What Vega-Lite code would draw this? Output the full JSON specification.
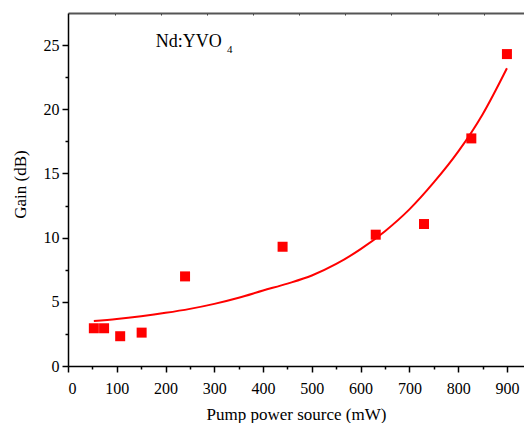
{
  "$schema": "https://vega.github.io/schema/vega-lite/v6.json",
  "width": 456,
  "height": 353,
  "autosize": {"type": "none"},
  "padding": {"left": 68, "top": 13, "right": 0, "bottom": 57},
  "background": "white",
  "config": {
    "view": {"stroke": null},
    "axis": {
      "grid": false,
      "labelFont": "Liberation Serif",
      "titleFont": "Liberation Serif",
      "labelFontSize": 16,
      "titleFontSize": 17,
      "titleFontWeight": "normal",
      "labelColor": "#000",
      "titleColor": "#000",
      "domainColor": "#000",
      "tickColor": "#000",
      "domainWidth": 1.5,
      "tickWidth": 1.5
    }
  },
  "datasets": {
    "fit": [
      {"power": 53, "gain": 3.5},
      {"power": 100, "gain": 3.66},
      {"power": 150, "gain": 3.88},
      {"power": 200, "gain": 4.14},
      {"power": 250, "gain": 4.45},
      {"power": 300, "gain": 4.84},
      {"power": 350, "gain": 5.32},
      {"power": 400, "gain": 5.88},
      {"power": 450, "gain": 6.42},
      {"power": 500, "gain": 7.05},
      {"power": 550, "gain": 7.95},
      {"power": 600, "gain": 9.1},
      {"power": 650, "gain": 10.5},
      {"power": 700, "gain": 12.2},
      {"power": 750, "gain": 14.3},
      {"power": 800, "gain": 16.7},
      {"power": 850, "gain": 19.6},
      {"power": 900, "gain": 23.2}
    ],
    "measured": [
      {"power": 53, "gain": 2.94},
      {"power": 74, "gain": 2.94},
      {"power": 107, "gain": 2.32},
      {"power": 151, "gain": 2.6},
      {"power": 240, "gain": 6.98},
      {"power": 440, "gain": 9.29},
      {"power": 631, "gain": 10.23},
      {"power": 730, "gain": 11.06},
      {"power": 827, "gain": 17.73},
      {"power": 900, "gain": 24.3}
    ],
    "labels": [
      {"power": 180, "gain": 24.82, "text": "Nd:YVO", "size": 18},
      {"power": 326, "gain": 24.35, "text": "4", "size": 11}
    ]
  },
  "resolve": {"axis": {"x": "independent", "y": "independent"}},
  "layer": [
    {
      "data": {"name": "fit"},
      "mark": {"type": "line", "color": "#ff0000", "strokeWidth": 2, "interpolate": "monotone"},
      "encoding": {
        "x": {
          "field": "power", "type": "quantitative",
          "scale": {"domain": [0, 935], "nice": false, "zero": false},
          "axis": {
            "orient": "bottom",
            "values": [0, 100, 200, 300, 400, 500, 600, 700, 800, 900],
            "tickSize": 6, "labelPadding": 8,
            "labelFont": "Liberation Serif", "labelFontSize": 16,
            "titleFont": "Liberation Serif", "titleFontSize": 17,
            "title": "Pump power source (mW)", "titlePadding": 10
          }
        },
        "y": {
          "field": "gain", "type": "quantitative",
          "scale": {"domain": [0, 27.5], "nice": false, "zero": false},
          "axis": {
            "orient": "left",
            "values": [0, 5, 10, 15, 20, 25],
            "tickSize": 6, "labelPadding": 3,
            "labelFont": "Liberation Serif", "labelFontSize": 16,
            "titleFont": "Liberation Serif", "titleFontSize": 17,
            "title": "Gain (dB)", "titlePadding": 14, "titleY": 171
          }
        }
      }
    },
    {
      "data": {"name": "measured"},
      "mark": {"type": "point", "shape": "square", "filled": true, "color": "#ff0000", "opacity": 1, "size": 100},
      "encoding": {
        "x": {
          "field": "power", "type": "quantitative",
          "axis": {
            "orient": "bottom",
            "values": [50, 150, 250, 350, 450, 550, 650, 750, 850],
            "tickSize": 3, "labels": false, "domain": false, "title": null
          }
        },
        "y": {
          "field": "gain", "type": "quantitative",
          "axis": {
            "orient": "left",
            "values": [2.5, 7.5, 12.5, 17.5, 22.5],
            "tickSize": 3, "labels": false, "domain": false, "title": null
          }
        }
      }
    },
    {
      "data": {"name": "labels"},
      "mark": {"type": "text", "font": "Liberation Serif", "align": "left", "baseline": "alphabetic", "color": "#000", "fill": "#000"},
      "encoding": {
        "x": {
          "field": "power", "type": "quantitative",
          "axis": {
            "orient": "top",
            "values": [96, 190, 285, 380, 474, 568, 663, 758, 852],
            "tickSize": -2, "labels": false, "title": null,
            "domainColor": "#555", "domainWidth": 2, "tickColor": "#333", "tickWidth": 1
          }
        },
        "y": {"field": "gain", "type": "quantitative", "axis": null},
        "text": {"field": "text"},
        "size": {"field": "size", "type": "quantitative", "scale": null}
      }
    }
  ]
}
